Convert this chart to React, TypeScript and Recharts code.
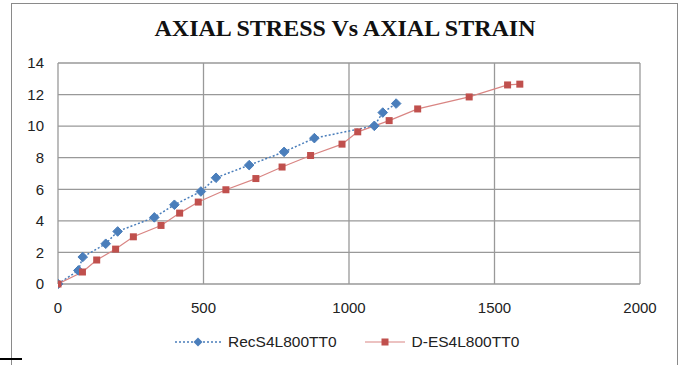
import { CartesianGrid, Line, LineChart, XAxis, YAxis } from "recharts"

// axial strain (x) and axial stress (y)
const recStrain = [0, 70, 85, 164, 205, 331, 400, 491, 543, 657, 777, 881, 1087, 1116, 1162]
const recStress = [0, 0.86, 1.71, 2.55, 3.33, 4.22, 5.02, 5.86, 6.73, 7.53, 8.37, 9.24, 10.02, 10.86, 11.43]

const desStrain = [0, 84, 133, 198, 259, 354, 418, 482, 577, 680, 770, 868, 976, 1030, 1138, 1236, 1413, 1545, 1587]
const desStress = [0, 0.76, 1.52, 2.21, 2.99, 3.71, 4.49, 5.19, 5.97, 6.68, 7.41, 8.14, 8.86, 9.64, 10.35, 11.09, 11.85, 12.61, 12.66]

const xTicks = [0, 500, 1000, 1500, 2000]
const yTicks = [0, 2, 4, 6, 8, 10, 12, 14]

const recData = recStrain.map((x, i) => ({ x, y: recStress[i] }))
const desData = desStrain.map((x, i) => ({ x, y: desStress[i] }))

const BLUE = "#4A7EBB"
const RED = "#C0504D"
const RED_LINE = "#D98583"
const sans = "Liberation Sans, Arial, sans-serif"
const tickFont = { fill: "#222", fontSize: 15, fontFamily: sans }

const Diamond = (props: any) => {
  const { cx, cy } = props
  if (cx == null || cy == null) return null
  const r = 4.8
  return (
    <polygon
      points={`${cx},${cy - r} ${cx + r},${cy} ${cx},${cy + r} ${cx - r},${cy}`}
      fill={BLUE}
      stroke={BLUE}
      strokeWidth={1}
    />
  )
}

const Square = (props: any) => {
  const { cx, cy } = props
  if (cx == null || cy == null) return null
  return <rect x={cx - 3.5} y={cy - 3.5} width={7} height={7} fill={RED} />
}

export default function App() {
  return (
    <div style={{ position: "absolute", left: 0, top: 0, width: 686, height: 365, background: "#fff", overflow: "hidden" }}>
      <div
        style={{
          position: "absolute",
          left: 11,
          top: 3,
          width: 667,
          height: 370,
          border: "1px solid #8a8a8a",
          boxSizing: "border-box",
        }}
      />
      <div style={{ position: "absolute", left: 0, top: 358, width: 22, height: 2, background: "#000" }} />
      <div
        style={{
          position: "absolute",
          left: 0,
          top: 15,
          width: 690,
          textAlign: "center",
          fontFamily: "Liberation Serif, Times New Roman, serif",
          fontWeight: "bold",
          fontSize: 24,
          color: "#111",
        }}
      >
        AXIAL STRESS Vs AXIAL STRAIN
      </div>
      <LineChart width={686} height={365} margin={{ top: 63, right: 46, left: 0, bottom: 51 }}>
        <CartesianGrid stroke="#999" strokeWidth={1.3} />
        <XAxis
          type="number"
          dataKey="x"
          domain={[0, 2000]}
          ticks={xTicks}
          tick={tickFont}
          tickLine={false}
          axisLine={false}
          tickMargin={12}
          height={30}
          allowDataOverflow
        />
        <YAxis
          type="number"
          dataKey="y"
          domain={[0, 14]}
          ticks={yTicks}
          tick={tickFont}
          tickLine={false}
          axisLine={false}
          tickMargin={8}
          width={58}
        />
        <Line
          data={recData}
          dataKey="y"
          stroke={BLUE}
          strokeWidth={1.5}
          strokeDasharray="2 2"
          dot={<Diamond />}
          isAnimationActive={false}
        />
        <Line
          data={desData}
          dataKey="y"
          stroke={RED_LINE}
          strokeWidth={1.2}
          dot={<Square />}
          isAnimationActive={false}
        />
      </LineChart>
      <div
        style={{
          position: "absolute",
          left: 175,
          top: 333,
          display: "flex",
          alignItems: "center",
          fontFamily: sans,
          fontSize: 15.5,
          color: "#222",
          whiteSpace: "nowrap",
        }}
      >
        <svg width={46} height={14}>
          <line x1={0} y1={7} x2={46} y2={7} stroke={BLUE} strokeWidth={1.5} strokeDasharray="2 2" />
          <polygon points="23,2.5 27.5,7 23,11.5 18.5,7" fill={BLUE} />
        </svg>
        <span style={{ marginLeft: 7 }}>RecS4L800TT0</span>
        <svg width={40} height={14} style={{ marginLeft: 28 }}>
          <line x1={0} y1={7} x2={40} y2={7} stroke={RED_LINE} strokeWidth={1.2} />
          <rect x={16.5} y={3.5} width={7} height={7} fill={RED} />
        </svg>
        <span style={{ marginLeft: 7 }}>D-ES4L800TT0</span>
      </div>
    </div>
  )
}
